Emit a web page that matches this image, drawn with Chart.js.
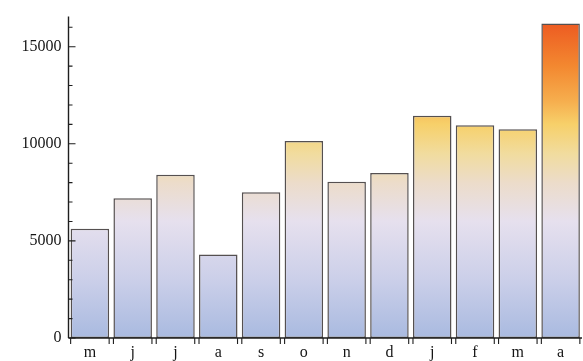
<!DOCTYPE html>
<html>
<head>
<meta charset="utf-8">
<script src="https://cdn.jsdelivr.net/npm/chart.js@4"></script>
<style>
  html, body { margin: 0; padding: 0; background: #fff; }
  #wrap { width: 583px; height: 361px; }
</style>
</head>
<body>
<div id="wrap"><canvas id="c" width="583" height="361"></canvas></div>
<script>
// Monthly totals, May through April
const months = ['m', 'j', 'j', 'a', 's', 'o', 'n', 'd', 'j', 'f', 'm', 'a'];
const sales = [5620, 7200, 8400, 4300, 7500, 10150, 8050, 8500, 11450, 10950, 10750, 16200];
const yLabelValues = [0, 5000, 10000, 15000];

// Colour ramp keyed by value (bottom blue, through lavender and yellow, to orange-red)
const rampValues = [0, 3000, 6000, 8000, 9500, 11000, 12200, 14000, 16500];
const rampColors = ['#a9bae0', '#cbcfe9', '#e6e0ee', '#ecdcca', '#f1dc9e', '#f7d06a', '#f6ae4e', '#f38830', '#ec5520'];

function barGradient(ctx) {
  const chart = ctx.chart;
  const area = chart.chartArea;
  if (!area) return rampColors[0];
  const y = chart.scales.y;
  const g = chart.ctx.createLinearGradient(0, area.bottom, 0, area.top);
  const span = area.bottom - area.top;
  rampValues.forEach((v, i) => {
    const pos = (area.bottom - y.getPixelForValue(v)) / span;
    g.addColorStop(Math.max(0, Math.min(1, pos)), rampColors[i]);
  });
  return g;
}

// Framed axes: ticks on the y axis point inward, ticks on x mark each bar edge
const axesPlugin = {
  id: 'framedAxes',
  afterDatasetsDraw(chart) {
    const { ctx, chartArea: a, scales } = chart;
    const y = scales.y;
    ctx.save();
    ctx.strokeStyle = '#1e1e1e';
    ctx.lineWidth = 1.4;
    ctx.beginPath();
    ctx.moveTo(a.left, a.top);
    ctx.lineTo(a.left, a.bottom);
    ctx.moveTo(a.left, a.bottom);
    ctx.lineTo(a.right, a.bottom);
    ctx.stroke();
    ctx.lineWidth = 1.1;
    ctx.beginPath();
    for (let v = 0; v <= y.max; v += 1000) {
      const py = y.getPixelForValue(v);
      const len = v % 5000 === 0 ? 7 : 4;
      ctx.moveTo(a.left, py);
      ctx.lineTo(a.left + len, py);
    }
    const meta = chart.getDatasetMeta(0);
    meta.data.forEach(bar => {
      const { x, width } = bar.getProps(['x', 'width'], true);
      [x - width / 2, x + width / 2].forEach(px => {
        ctx.moveTo(px, a.bottom);
        ctx.lineTo(px, a.bottom + 6);
      });
    });
    ctx.stroke();
    ctx.restore();
  }
};

new Chart(document.getElementById('c'), {
  type: 'bar',
  data: {
    labels: months,
    datasets: [{
      data: sales,
      backgroundColor: barGradient,
      borderColor: '#555050',
      borderWidth: 1.5,
      borderSkipped: false,
      categoryPercentage: 1,
      barPercentage: 0.9
    }]
  },
  options: {
    responsive: false,
    animation: false,
    events: [],
    layout: { padding: { top: 12, right: 1, left: 0, bottom: 0 } },
    plugins: { legend: { display: false }, tooltip: { enabled: false } },
    scales: {
      x: {
        grid: { display: false, drawTicks: false },
        border: { display: false },
        ticks: {
          color: '#151515',
          padding: 5,
          font: { family: 'Liberation Serif', size: 16 }
        },
        afterFit(scale) { scale.height = 23; }
      },
      y: {
        min: 0,
        max: 16550,
        grid: { display: false, drawTicks: false },
        border: { display: false },
        afterBuildTicks(scale) {
          scale.ticks = yLabelValues.map(v => ({ value: v }));
        },
        ticks: {
          color: '#151515',
          padding: 7,
          font: { family: 'Liberation Serif', size: 16 },
          callback: v => String(v)
        },
        afterFit(scale) { scale.width = 68.5; }
      }
    }
  },
  plugins: [axesPlugin]
});
</script>
</body>
</html>
